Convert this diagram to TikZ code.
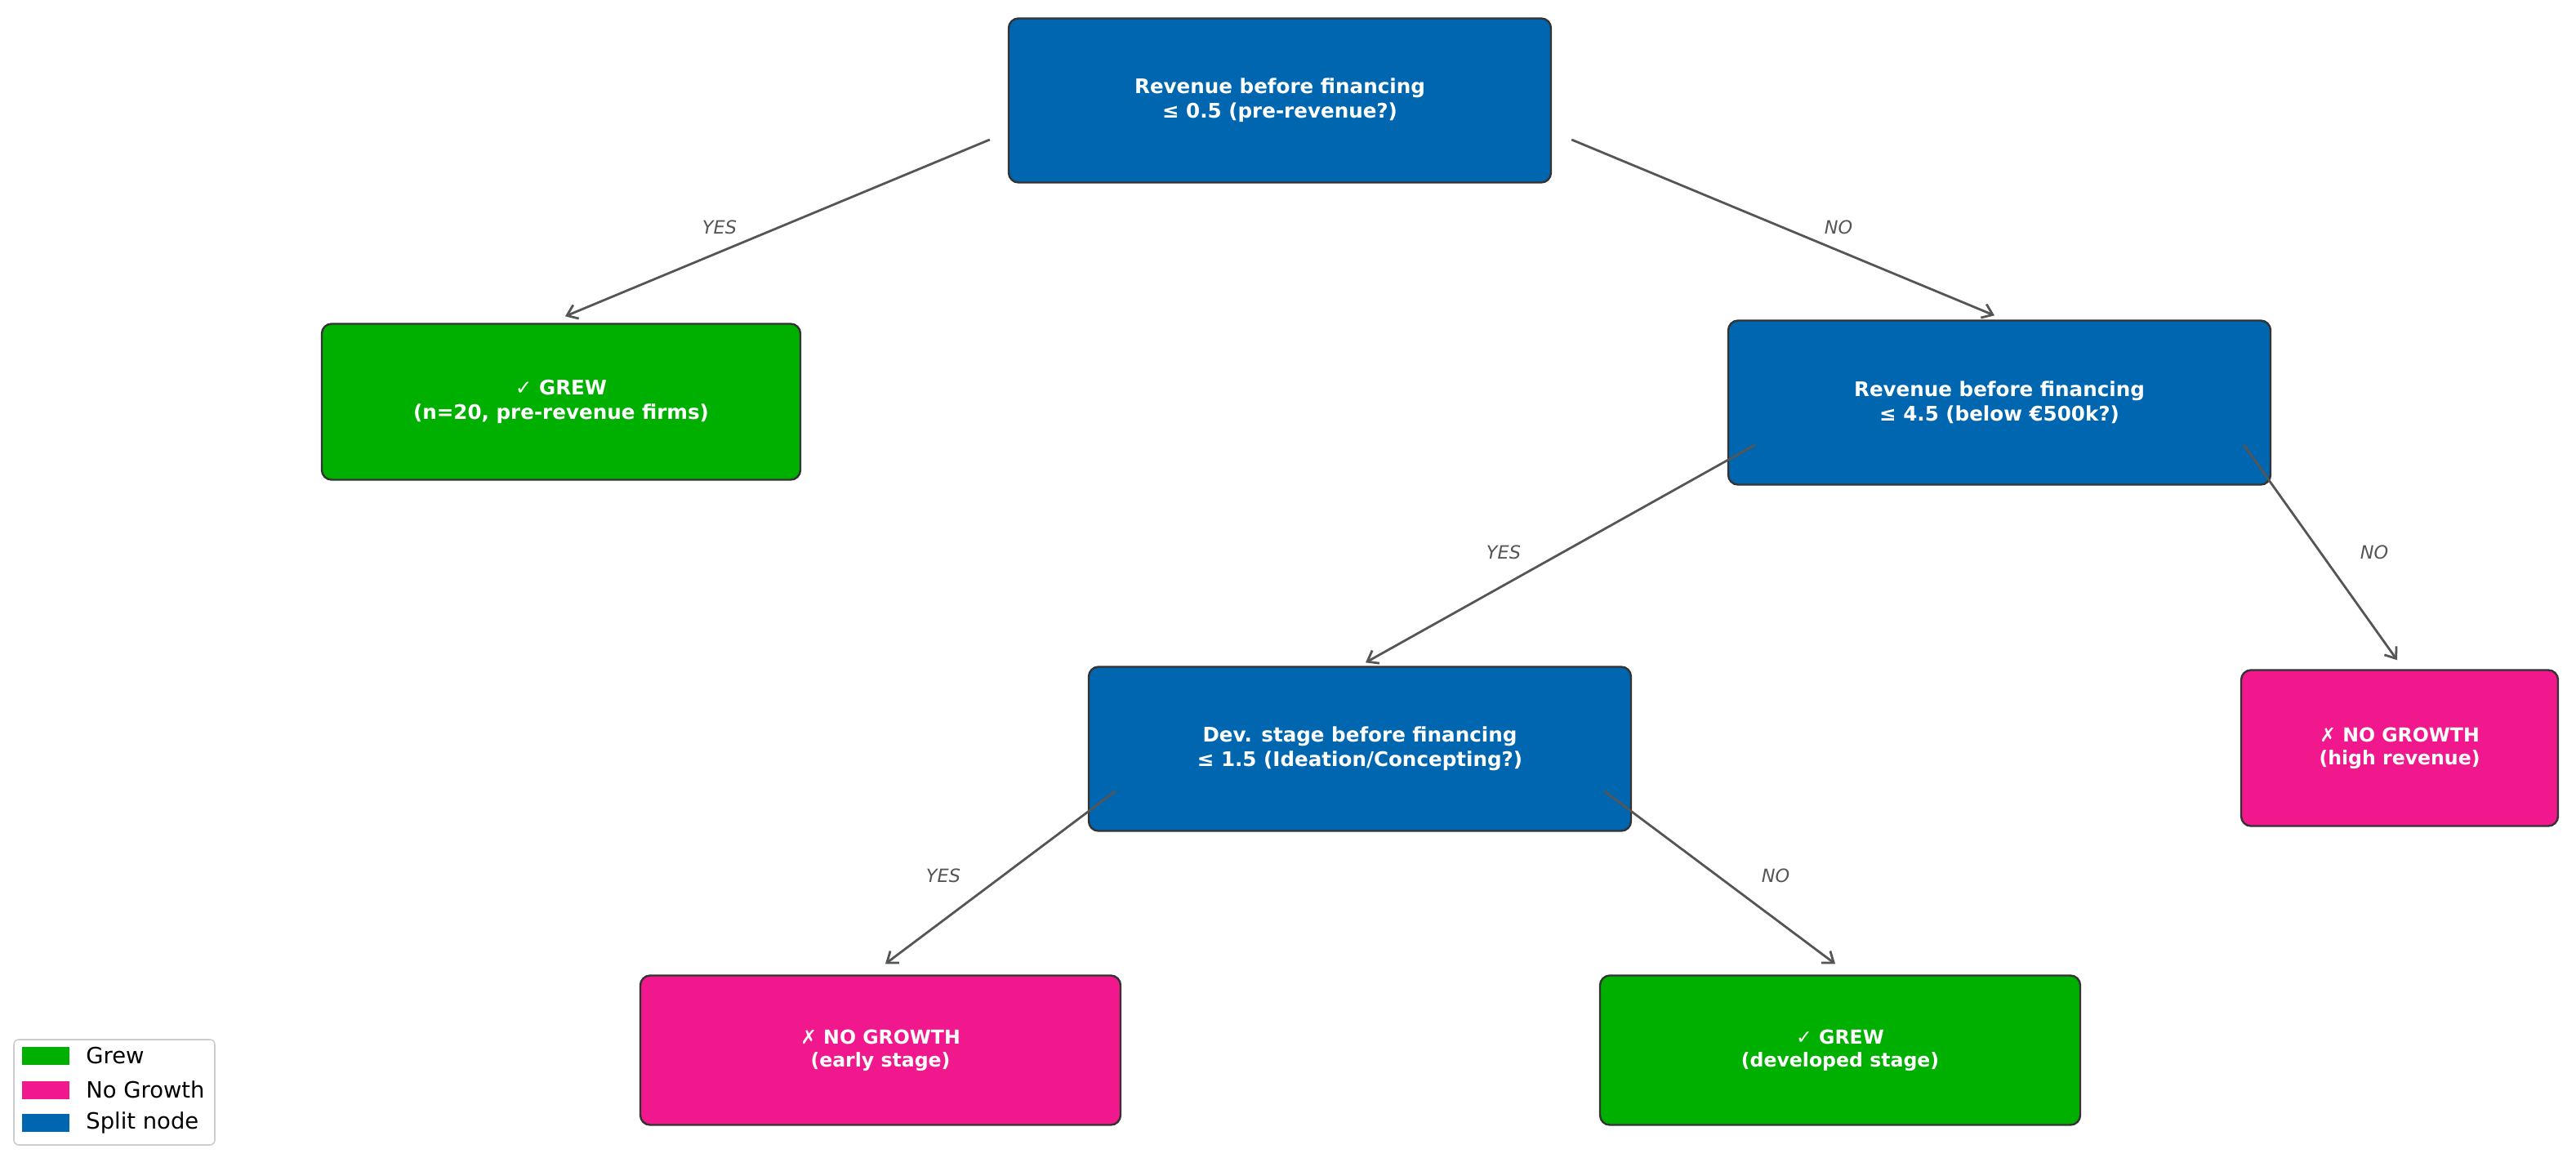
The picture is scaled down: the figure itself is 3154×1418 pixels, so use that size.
\documentclass[tikz,border=0pt]{standalone}
\usepackage{fontspec}
\setmainfont{DejaVu Sans}
\usetikzlibrary{arrows.meta,calc}
\definecolor{splitblue}{RGB}{0,102,176}
\definecolor{grewgreen}{RGB}{0,176,0}
\definecolor{nopink}{RGB}{240,24,140}
\definecolor{edgegray}{RGB}{51,51,51}
\definecolor{arrgray}{RGB}{85,85,85}
\definecolor{legendedge}{RGB}{204,204,204}
\begin{document}
\begin{tikzpicture}[x=0.5pt,y=-0.5pt,
  box/.style={draw=edgegray, line width=1.2pt, rounded corners=6pt, text=white,
    font=\bfseries\fontsize{12.3}{15}\selectfont, align=center, inner sep=0pt},
  smalltext/.style={font=\bfseries\fontsize{11.8}{14}\selectfont},
  splitbox/.style={box, fill=splitblue, minimum width=332pt, minimum height=100.5pt},
  grewbox/.style={box, fill=grewgreen},
  nobox/.style={box, fill=nopink},
  arr/.style={draw=arrgray, line width=1.4pt, -{Straight Barb[length=6pt,width=9pt]}},
  lbl/.style={text=arrgray, font=\itshape\fontsize{11.2}{13}\selectfont, inner sep=0pt},
  patch/.style={minimum width=29pt, minimum height=11pt, inner sep=0pt},
  legtext/.style={anchor=west, font=\fontsize{13.7}{16}\selectfont, inner sep=0pt}
]
\useasboundingbox (0,0) rectangle (3154,1418);
\fill[white] (0,0) rectangle (3154,1418);

% nodes
\node[splitbox] (top) at (1567,123) {Revenue before financing\\≤ 0.5 (pre-revenue?)};
\node[grewbox, minimum width=293pt, minimum height=95.5pt] (grewA) at (687,492) {✓ GREW\\(n=20, pre-revenue firms)};
\node[splitbox] (rev) at (2448,493) {Revenue before financing\\≤ 4.5 (below €500k?)};
\node[splitbox] (dev) at (1665,917) {Dev. stage before financing\\≤ 1.5 (Ideation/Concepting?)};
\node[nobox, smalltext, minimum width=194pt, minimum height=95.5pt] (ngHigh) at (2938,916) {✗ NO GROWTH\\(high revenue)};
\node[nobox, smalltext, minimum width=294pt, minimum height=91.5pt] (ngEarly) at (1078,1286) {✗ NO GROWTH\\(early stage)};
\node[grewbox, smalltext, minimum width=294pt, minimum height=91.5pt] (grewB) at (2253,1286) {✓ GREW\\(developed stage)};

% connectors
\draw[arr] ($(top.west)+(-22,48)$) -- ($(grewA.north)+(5,-8)$);
\draw[arr] ($(top.east)+(24,48)$) -- ($(rev.north)+(-6,-5)$);
\draw[arr] ($(rev.south west)+(34,-50)$) -- ($(dev.north)+(7,-4)$);
\draw[arr] ($(rev.south east)+(-34,-50)$) -- ($(ngHigh.north)+(-3,-11)$);
\draw[arr] ($(dev.south west)+(34,-50)$) -- ($(ngEarly.north)+(6,-13)$);
\draw[arr] ($(dev.south east)+(-34,-50)$) -- ($(grewB.north)+(-6,-13)$);

% edge labels
\node[lbl] (l1) at (881,278) {YES};
\node[lbl] (l2) at (2251,278) {NO};
\node[lbl] (l3) at (1841,676) {YES};
\node[lbl] (l4) at (2907,676) {NO};
\node[lbl] (l5) at (1155,1072) {YES};
\node[lbl] (l6) at (2174,1072) {NO};

% legend
\draw[draw=legendedge, fill=white, line width=0.8pt, rounded corners=3pt] (17,1273) rectangle (263,1402);
\node[patch, fill=grewgreen] (pg) at (55.5,1293) {};
\node[patch, fill=nopink] (pp) at (55.5,1334.5) {};
\node[patch, fill=splitblue] (pb) at (55.5,1375) {};
\node[legtext] (tg) at (105,1293) {Grew};
\node[legtext] (tp) at (105,1334.5) {No Growth};
\node[legtext] (tb) at (105,1375) {Split node};
\end{tikzpicture}
\end{document}
